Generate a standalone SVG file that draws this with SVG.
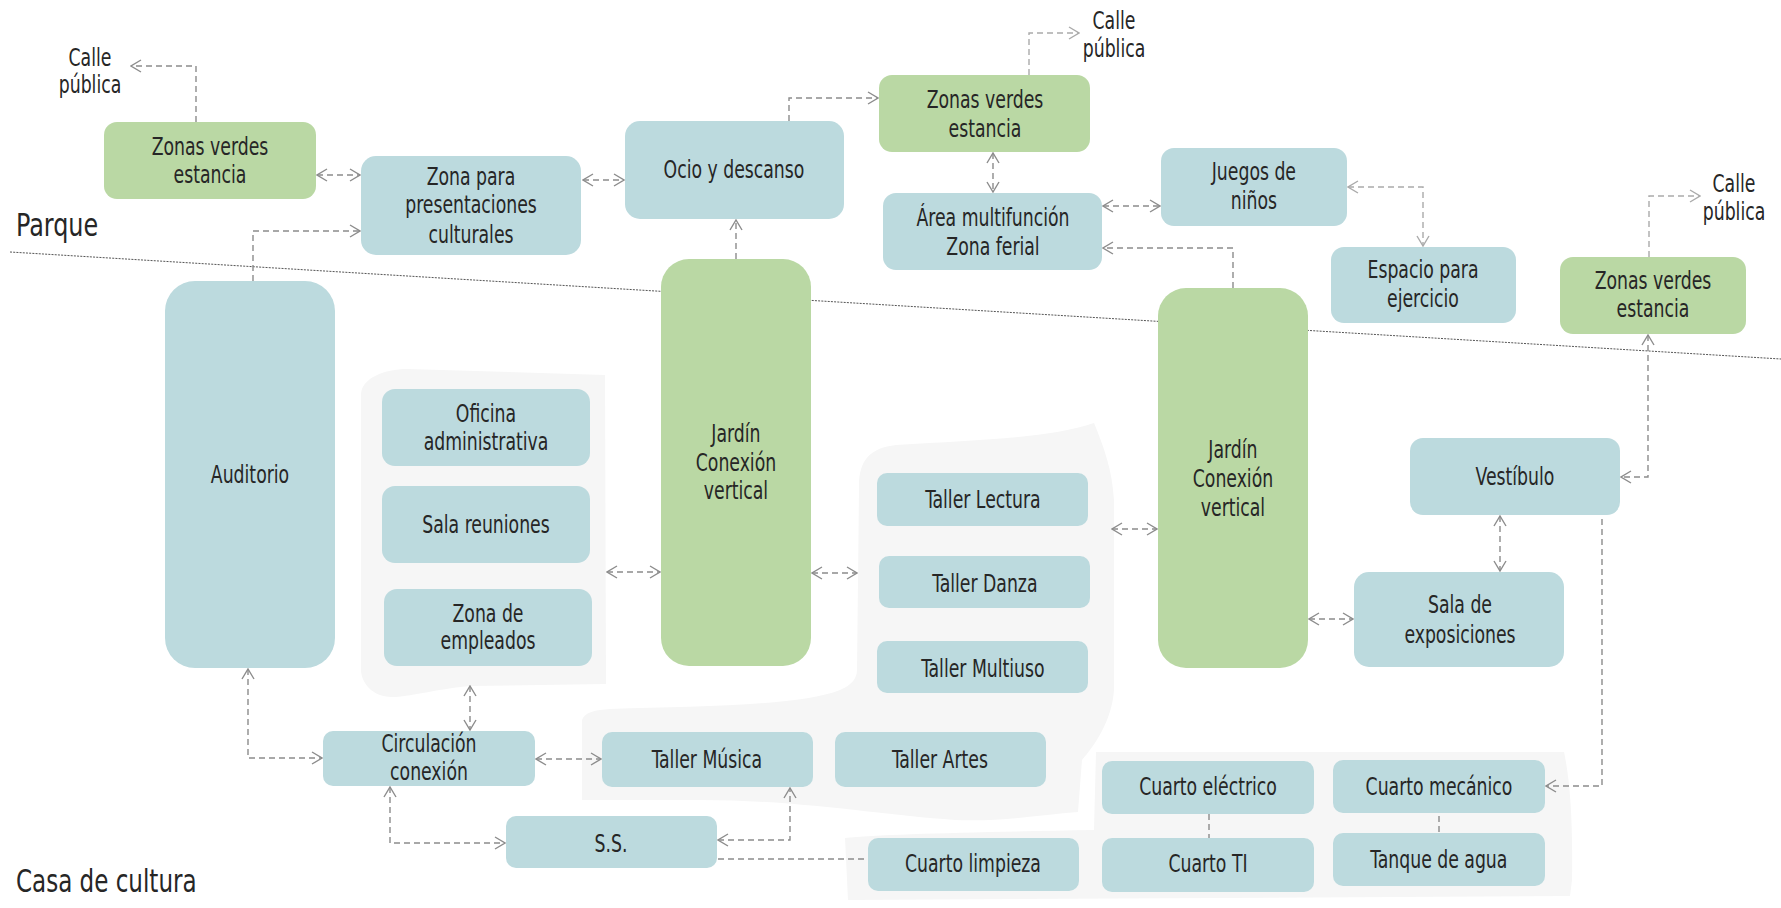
<svg xmlns="http://www.w3.org/2000/svg" width="1781" height="908" viewBox="0 0 1781 908">
<style>
.t,.lbl{font-family:"DejaVu Sans Condensed","DejaVu Sans","Liberation Sans",sans-serif;font-size:24px;fill:#262626;text-anchor:middle;transform-box:fill-box;transform-origin:center;transform:scaleX(0.8)}
.zone{font-family:"DejaVu Sans Condensed","DejaVu Sans","Liberation Sans",sans-serif;font-size:32px;fill:#262626;transform-box:fill-box;transform-origin:left center;transform:scaleX(0.83)}
.zone2{transform:scaleX(0.8)}
.b{fill:#bcdade}
.g{fill:#bad8a4}
.bg{fill:#f6f6f6}
.c{fill:none;stroke:#8c8c8c;stroke-width:1.4;stroke-dasharray:6 4}
.cl{fill:none;stroke:#aaaaaa;stroke-width:1.4;stroke-dasharray:6 4}
</style>
<defs>
<marker id="ah" viewBox="0 0 12 14" refX="11" refY="7" markerWidth="12" markerHeight="14" markerUnits="userSpaceOnUse" orient="auto-start-reverse">
<path d="M1,1 L11,7 L1,13" fill="none" stroke="#8c8c8c" stroke-width="1.4"/>
</marker>
<marker id="ahl" viewBox="0 0 12 14" refX="11" refY="7" markerWidth="12" markerHeight="14" markerUnits="userSpaceOnUse" orient="auto-start-reverse">
<path d="M1,1 L11,7 L1,13" fill="none" stroke="#aaaaaa" stroke-width="1.4"/>
</marker>
</defs>
<rect width="1781" height="908" fill="#ffffff"/>

<g id="backgrounds">
<path class="bg" d="M361,395 C361,378 385,369 407,369 L605,375 L606,684 L470,686 C430,690 410,697 392,697 C372,697 361,682 361,670 Z"/>
<path class="bg" d="M859,490 C858,460 870,448 896,445 C980,440 1050,438 1094,423 C1105,450 1112,470 1114,500 L1114,690 C1112,720 1095,745 1082,760 L1078,812 C1040,815 1000,822 955,820 C880,815 800,800 700,800 L582,800 L582,720 C585,712 595,710 610,709 C700,706 800,706 840,690 C852,685 857,678 857,670 Z"/>
<path class="bg" d="M845,838 C880,834 980,832 1094,830 L1096,752 L1564,752 C1570,780 1573,820 1572,880 L1570,896 L848,900 Z"/>
</g>

<line id="boundary" x1="10" y1="252" x2="1781" y2="359" stroke="#555555" stroke-width="1" stroke-dasharray="2 1.2"/>

<text class="zone" x="16" y="236">Parque</text>
<text class="zone zone2" x="16" y="892">Casa de cultura</text>

<g id="connectors">
<path class="c" d="M196,122 V66 H131" marker-end="url(#ah)"/>
<path class="c" d="M317,175 H360" marker-start="url(#ah)" marker-end="url(#ah)"/>
<path class="c" d="M253,281 V231 H360" marker-end="url(#ah)"/>
<path class="c" d="M583,180 H624" marker-start="url(#ah)" marker-end="url(#ah)"/>
<path class="c" d="M789,121 V98 H878" marker-end="url(#ah)"/>
<path class="cl" d="M1029,75 V33 H1079" marker-end="url(#ahl)"/>
<path class="c" d="M993,153 V192" marker-start="url(#ah)" marker-end="url(#ah)"/>
<path class="c" d="M1103,206 H1160" marker-start="url(#ah)" marker-end="url(#ah)"/>
<path class="c" d="M1233,288 V248 H1103" marker-end="url(#ah)"/>
<path class="c" d="M736,259 V220" marker-end="url(#ah)"/>
<path class="cl" d="M1348,187 H1423 V246" marker-start="url(#ahl)" marker-end="url(#ahl)"/>
<path class="cl" d="M1649,257 V196 H1700" marker-end="url(#ahl)"/>
<path class="c" d="M1648,335 V477 H1621" marker-start="url(#ah)" marker-end="url(#ah)"/>
<path class="c" d="M1500,516 V571" marker-start="url(#ah)" marker-end="url(#ah)"/>
<path class="c" d="M1309,619 H1353" marker-start="url(#ah)" marker-end="url(#ah)"/>
<path class="c" d="M1602,519 V786 H1546" marker-end="url(#ah)"/>
<path class="c" d="M607,572 H660" marker-start="url(#ah)" marker-end="url(#ah)"/>
<path class="c" d="M812,573 H857" marker-start="url(#ah)" marker-end="url(#ah)"/>
<path class="c" d="M1112,529 H1157" marker-start="url(#ah)" marker-end="url(#ah)"/>
<path class="c" d="M248,669 V758 H322" marker-start="url(#ah)" marker-end="url(#ah)"/>
<path class="c" d="M470,686 V730" marker-start="url(#ah)" marker-end="url(#ah)"/>
<path class="c" d="M536,759 H601" marker-start="url(#ah)" marker-end="url(#ah)"/>
<path class="c" d="M390,787 V843 H505" marker-start="url(#ah)" marker-end="url(#ah)"/>
<path class="c" d="M718,840 H790 V788" marker-start="url(#ah)" marker-end="url(#ah)"/>
<path class="c" d="M718,859 H868"/>
<path class="c" d="M1209,814 V838"/>
<path class="c" d="M1439,806 V833"/>
</g>

<text class="lbl" x="90" y="66">Calle</text>
<text class="lbl" x="90" y="93">pública</text>
<text class="lbl" x="1114" y="29">Calle</text>
<text class="lbl" x="1114" y="57">pública</text>
<text class="lbl" x="1734" y="192">Calle</text>
<text class="lbl" x="1734" y="220">pública</text>

<g id="n-zv1"><rect class="g" x="104" y="122" width="212" height="77" rx="13"/><text class="t" x="210" y="155">Zonas verdes</text><text class="t" x="210" y="183">estancia</text></g>
<g id="n-zpp"><rect class="b" x="361" y="156" width="220" height="99" rx="15"/><text class="t" x="471" y="185">Zona para</text><text class="t" x="471" y="213">presentaciones</text><text class="t" x="471" y="243">culturales</text></g>
<g id="n-ocio"><rect class="b" x="625" y="121" width="219" height="98" rx="15"/><text class="t" x="734" y="178">Ocio y descanso</text></g>
<g id="n-zv2"><rect class="g" x="879" y="75" width="211" height="77" rx="13"/><text class="t" x="985" y="108">Zonas verdes</text><text class="t" x="985" y="137">estancia</text></g>
<g id="n-area"><rect class="b" x="883" y="193" width="219" height="77" rx="13"/><text class="t" x="993" y="226">Área multifunción</text><text class="t" x="993" y="255">Zona ferial</text></g>
<g id="n-juegos"><rect class="b" x="1161" y="148" width="186" height="78" rx="13"/><text class="t" x="1254" y="180">Juegos de</text><text class="t" x="1254" y="209">niños</text></g>
<g id="n-espacio"><rect class="b" x="1331" y="247" width="185" height="76" rx="13"/><text class="t" x="1423" y="278">Espacio para</text><text class="t" x="1423" y="307">ejercicio</text></g>
<g id="n-zv3"><rect class="g" x="1560" y="257" width="186" height="77" rx="13"/><text class="t" x="1653" y="289">Zonas verdes</text><text class="t" x="1653" y="317">estancia</text></g>
<g id="n-auditorio"><rect class="b" x="165" y="281" width="170" height="387" rx="30"/><text class="t" x="250" y="483">Auditorio</text></g>
<g id="n-oficina"><rect class="b" x="382" y="389" width="208" height="77" rx="13"/><text class="t" x="486" y="422">Oficina</text><text class="t" x="486" y="450">administrativa</text></g>
<g id="n-sala-reuniones"><rect class="b" x="382" y="486" width="208" height="77" rx="13"/><text class="t" x="486" y="533">Sala reuniones</text></g>
<g id="n-empleados"><rect class="b" x="384" y="589" width="208" height="77" rx="13"/><text class="t" x="488" y="622">Zona de</text><text class="t" x="488" y="649">empleados</text></g>
<g id="n-jardin1"><rect class="g" x="661" y="259" width="150" height="407" rx="28"/><text class="t" x="736" y="442">Jardín</text><text class="t" x="736" y="471">Conexión</text><text class="t" x="736" y="499">vertical</text></g>
<g id="n-lectura"><rect class="b" x="877" y="473" width="211" height="53" rx="10"/><text class="t" x="983" y="508">Taller Lectura</text></g>
<g id="n-danza"><rect class="b" x="879" y="556" width="211" height="52" rx="10"/><text class="t" x="985" y="592">Taller Danza</text></g>
<g id="n-multiuso"><rect class="b" x="877" y="641" width="211" height="52" rx="10"/><text class="t" x="983" y="677">Taller Multiuso</text></g>
<g id="n-jardin2"><rect class="g" x="1158" y="288" width="150" height="380" rx="28"/><text class="t" x="1233" y="458">Jardín</text><text class="t" x="1233" y="487">Conexión</text><text class="t" x="1233" y="516">vertical</text></g>
<g id="n-vestibulo"><rect class="b" x="1410" y="438" width="210" height="77" rx="13"/><text class="t" x="1515" y="485">Vestíbulo</text></g>
<g id="n-sala-expo"><rect class="b" x="1354" y="572" width="210" height="95" rx="15"/><text class="t" x="1460" y="613">Sala de</text><text class="t" x="1460" y="643">exposiciones</text></g>
<g id="n-circulacion"><rect class="b" x="323" y="731" width="212" height="55" rx="10"/><text class="t" x="429" y="752">Circulación</text><text class="t" x="429" y="780">conexión</text></g>
<g id="n-musica"><rect class="b" x="602" y="732" width="211" height="55" rx="10"/><text class="t" x="707" y="768">Taller Música</text></g>
<g id="n-artes"><rect class="b" x="835" y="732" width="211" height="55" rx="10"/><text class="t" x="940" y="768">Taller Artes</text></g>
<g id="n-ss"><rect class="b" x="506" y="816" width="211" height="52" rx="10"/><text class="t" x="611" y="852">S.S.</text></g>
<g id="n-limpieza"><rect class="b" x="868" y="838" width="211" height="53" rx="10"/><text class="t" x="973" y="872">Cuarto limpieza</text></g>
<g id="n-electrico"><rect class="b" x="1102" y="761" width="212" height="53" rx="10"/><text class="t" x="1208" y="795">Cuarto eléctrico</text></g>
<g id="n-ti"><rect class="b" x="1102" y="838" width="212" height="54" rx="10"/><text class="t" x="1208" y="872">Cuarto TI</text></g>
<g id="n-mecanico"><rect class="b" x="1333" y="760" width="212" height="53" rx="10"/><text class="t" x="1439" y="795">Cuarto mecánico</text></g>
<g id="n-tanque"><rect class="b" x="1333" y="833" width="212" height="53" rx="10"/><text class="t" x="1439" y="868">Tanque de agua</text></g>
</svg>
